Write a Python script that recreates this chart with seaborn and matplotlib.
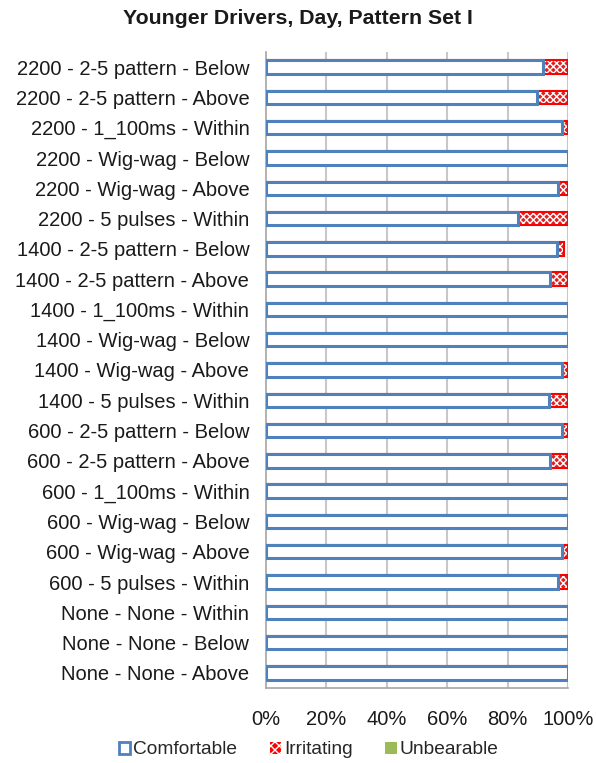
import matplotlib
matplotlib.use("Agg")
import matplotlib.pyplot as plt
from matplotlib.patches import Patch
from matplotlib.ticker import FuncFormatter, FixedLocator
import numpy as np
import pandas as pd
import seaborn as sns

# Conditions (top to bottom) and response shares in percent
conditions = [
    "2200 - 2-5 pattern - Below",
    "2200 - 2-5 pattern - Above",
    "2200 - 1_100ms - Within",
    "2200 - Wig-wag - Below",
    "2200 - Wig-wag - Above",
    "2200 - 5 pulses - Within",
    "1400 - 2-5 pattern - Below",
    "1400 - 2-5 pattern - Above",
    "1400 - 1_100ms - Within",
    "1400 - Wig-wag - Below",
    "1400 - Wig-wag - Above",
    "1400 - 5 pulses - Within",
    "600 - 2-5 pattern - Below",
    "600 - 2-5 pattern - Above",
    "600 - 1_100ms - Within",
    "600 - Wig-wag - Below",
    "600 - Wig-wag - Above",
    "600 - 5 pulses - Within",
    "None - None - Within",
    "None - None - Below",
    "None - None - Above",
]
comfortable = [91.7, 89.6, 98.1, 100, 96.8, 83.5, 96.4, 94.0, 100, 100,
               98.1, 93.7, 98.1, 94.0, 100, 100, 98.1, 96.8, 100, 100, 100]
irritating = [8.3, 10.4, 1.9, 0, 3.2, 16.5, 2.2, 6.0, 0, 0,
              1.9, 6.3, 1.9, 6.0, 0, 0, 1.9, 3.2, 0, 0, 0]
unbearable = [0] * 21
x_ticks = [0, 20, 40, 60, 80, 100]

BLUE = "#4F81BD"
RED = "#FF0000"
GREEN = "#9BBB59"
GRID = "#C8C8C8"
AXIS = "#A6A6A6"
TEXT = "#1a1a1a"

sns.set_theme(style="white")
plt.rcParams["font.family"] = ["Liberation Sans", "DejaVu Sans"]
plt.rcParams["hatch.linewidth"] = 1.0

df = pd.DataFrame({
    "condition": conditions,
    "Comfortable": comfortable,
    "Irritating": irritating,
    "Unbearable": unbearable,
})
df["to_irr"] = df["Comfortable"] + df["Irritating"]
df["to_unb"] = df["to_irr"] + df["Unbearable"]

fig = plt.figure(figsize=(5.96, 7.63), dpi=100)
ax = fig.add_axes([266 / 596, 1 - 688 / 763, 302 / 596, 636 / 763])

bw = 0.44
# stacked bars: draw cumulative totals back to front
sns.barplot(data=df, y="condition", x="to_unb", orient="h", color=GREEN,
            width=bw, linewidth=0, ax=ax, zorder=2)
sns.barplot(data=df, y="condition", x="to_irr", orient="h", color=RED,
            width=bw, hatch="xxxxx", edgecolor="white", linewidth=0, ax=ax, zorder=3)
sns.barplot(data=df, y="condition", x="to_irr", orient="h", facecolor="none",
            width=bw, edgecolor=RED, linewidth=1.5, ax=ax, zorder=4)
sns.barplot(data=df, y="condition", x="Comfortable", orient="h", color="white",
            width=bw, edgecolor=BLUE, linewidth=2.2, ax=ax, zorder=5)

ax.set_xlim(0, 100)
ax.set_ylim(len(conditions) - 0.5, -0.5)
ax.set_xlabel("")
ax.set_ylabel("")

ax.xaxis.set_major_locator(FixedLocator(x_ticks))
ax.xaxis.set_major_formatter(FuncFormatter(lambda v, p: f"{v:.0f}%"))
for v in x_ticks[1:]:
    ax.axvline(v, color=GRID, lw=1.5, zorder=1)

ax.set_yticks(np.arange(len(conditions)))
ax.set_yticklabels(conditions)
ax.yaxis.set_minor_locator(FixedLocator(np.arange(-0.5, len(conditions), 1)))
ax.tick_params(axis="y", which="major", length=0, pad=12, labelsize=14.5,
               labelcolor=TEXT)
ax.tick_params(axis="y", which="minor", length=5, width=1, color=AXIS, direction="out")
ax.tick_params(axis="x", which="major", length=5, width=1, color=AXIS, direction="out",
               pad=11, labelsize=14.5, labelcolor=TEXT)

for s in ["top", "right"]:
    ax.spines[s].set_visible(False)
for s in ["left", "bottom"]:
    ax.spines[s].set_color(AXIS)
    ax.spines[s].set_linewidth(1.2)

fig.text(0.5, 1 - 18 / 763, "Younger Drivers, Day, Pattern Set I", ha="center",
         va="center", fontsize=15.3, fontweight="bold", color=TEXT)

handles = [
    Patch(facecolor="white", edgecolor=BLUE, linewidth=2.0, label="Comfortable"),
    Patch(facecolor=RED, edgecolor="white", hatch="xxxx", linewidth=0, label="Irritating"),
    Patch(facecolor=GREEN, edgecolor=GREEN, linewidth=0, label="Unbearable"),
]
fig.legend(handles=handles, loc="center", bbox_to_anchor=(0.518, 1 - 750 / 763), ncol=3,
           frameon=False, fontsize=13.8, handlelength=0.6, handleheight=0.6,
           handletextpad=0.15, columnspacing=1.7)

fig.savefig("out.png", dpi=100)
